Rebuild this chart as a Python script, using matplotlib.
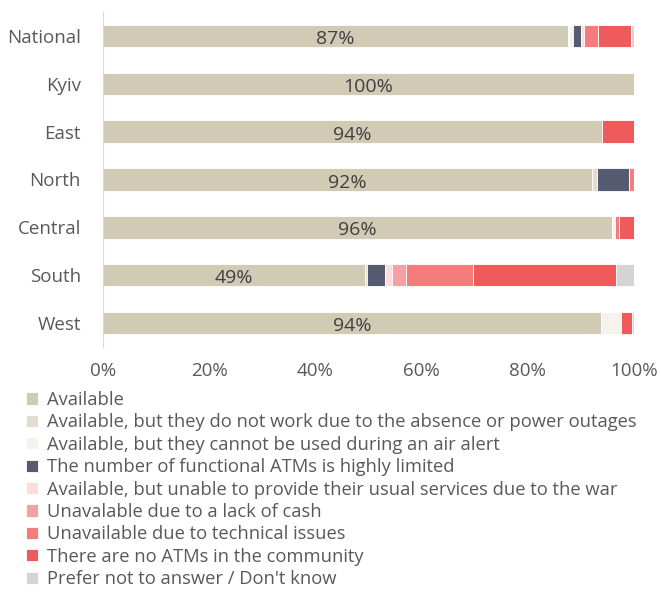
import matplotlib
matplotlib.use("Agg")
import matplotlib.pyplot as plt
import numpy as np

plt.rcParams['font.family'] = ['Open Sans', 'DejaVu Sans']

regions = ["National", "Kyiv", "East", "North", "Central", "South", "West"]
labels = [
    "Available",
    "Available, but they do not work due to the absence or power outages",
    "Available, but they cannot be used during an air alert",
    "The number of functional ATMs is highly limited",
    "Available, but unable to provide their usual services due to the war",
    "Unavalable due to a lack of cash",
    "Unavailable due to technical issues",
    "There are no ATMs in the community",
    "Prefer not to answer / Don't know",
]
colors = ["#D1CAB5", "#E1DDD1", "#F4F3EC", "#575B71", "#FDDCDC",
          "#F4A0A4", "#F47C7C", "#EF5A5A", "#D4D4D7"]

available       = [87.6, 100.0, 93.9, 92.0, 95.9, 49.3, 93.8]
no_power        = [0.2, 0.0, 0.0, 1.0, 0.0, 0.5, 0.0]
air_alert       = [0.8, 0.0, 0.0, 0.0, 0.5, 0.0, 3.8]
limited         = [1.5, 0.0, 0.0, 6.0, 0.0, 3.4, 0.0]
usual_services  = [0.4, 0.0, 0.0, 0.0, 0.0, 1.3, 0.0]
lack_cash       = [0.0, 0.0, 0.0, 0.0, 0.0, 2.6, 0.0]
technical       = [2.8, 0.0, 0.0, 1.0, 0.7, 12.6, 0.0]
no_atms         = [6.2, 0.0, 6.1, 0.0, 2.9, 26.9, 2.1]
dont_know       = [0.5, 0.0, 0.0, 0.0, 0.0, 3.4, 0.3]
pct_labels = ["87%", "100%", "94%", "92%", "96%", "49%", "94%"]

series = [available, no_power, air_alert, limited, usual_services,
          lack_cash, technical, no_atms, dont_know]

W, H = 661, 592
fig = plt.figure(figsize=(W / 100, H / 100), dpi=100)
ax = fig.add_axes([103 / W, 1 - 347 / H, (634 - 103) / W, (347 - 12) / H])

y = np.arange(len(regions))
left = np.zeros(len(regions))
handles = []
for vals, col, lab in zip(series, colors, labels):
    vals = np.array(vals)
    b = ax.barh(y, vals, left=left, height=0.47, color=col,
                edgecolor='white', linewidth=0.6, label=lab)
    handles.append(b)
    left += vals

for i, (v, t) in enumerate(zip(available, pct_labels)):
    ax.text(v / 2, i + 0.17, t, ha='center', va='baseline', fontsize=14,
            color='#404040')

ax.set_xlim(0, 100)
ax.set_ylim(6.5, -0.5)
ax.set_yticks(y)
ax.set_yticklabels(regions)
ax.set_xticks(np.arange(0, 101, 20))
ax.set_xticklabels([f"{v}%" for v in range(0, 101, 20)])
ax.tick_params(axis='both', length=0, labelsize=13.5, labelcolor='#595959')
ax.tick_params(axis='x', pad=11)
ax.tick_params(axis='y', pad=16)
for s in ['top', 'right', 'bottom']:
    ax.spines[s].set_visible(False)
ax.spines['left'].set_color('#D9D9D9')

leg = fig.legend(handles=handles, labels=labels, loc='upper left',
                 bbox_to_anchor=(26 / W, 1 - 391 / H), frameon=False,
                 fontsize=13.2, handlelength=0.65, handleheight=0.65,
                 handletextpad=0.5, labelspacing=0.24, borderpad=0,
                 borderaxespad=0)
for t in leg.get_texts():
    t.set_color('#595959')

fig.savefig("out.png", dpi=100)
